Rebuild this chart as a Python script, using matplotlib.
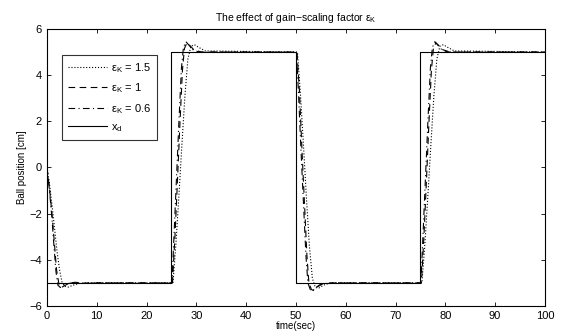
"""Ball position responses for several gain-scaling factors."""

import matplotlib

matplotlib.use("Agg")
import matplotlib.pyplot as plt

plt.rcParams["font.family"] = ["Liberation Sans", "DejaVu Sans"]
plt.rcParams["mathtext.fontset"] = "custom"
plt.rcParams["mathtext.rm"] = "Liberation Sans"
plt.rcParams["mathtext.it"] = "Liberation Sans:italic"

# reference trajectory x_d
T_REF = [0, 25, 25, 50, 50, 75, 75, 100]
X_REF = [-5, -5, 5, 5, -5, -5, 5, 5]

# eps_K = 0.6 (dash-dot)
T_06 = [0, 0.5, 1.0, 1.4, 1.8, 2.2, 2.7, 3.3, 4.2, 5.5, 7, 9, 25.1, 25.5, 26.0, 26.5, 27.0,
        27.4, 27.9, 28.5, 29.3, 30.5, 50.1, 50.5, 51.0, 51.5, 52.0, 52.4, 52.9, 53.3, 54.0,
        55.0, 57.0, 75.1, 75.5, 76.0, 76.5, 77.0, 77.4, 77.9, 78.5, 79.3, 80.5, 100]
Y_06 = [0, -1.0, -2.2, -3.4, -4.5, -5.1, -5.2, -5.1, -5.03, -4.98, -5.02, -5.0, -5.0, -3.0,
        -0.5, 2.0, 4.3, 5.2, 5.45, 5.3, 5.1, 5.0, 5.0, 3.3, 0.8, -1.5, -3.8, -5.0, -5.3, -5.35,
        -5.2, -5.05, -5.0, -5.0, -3.0, -0.5, 2.0, 4.3, 5.2, 5.45, 5.3, 5.1, 5.0, 5.0]

# eps_K = 1 (dashed)
T_10 = [0, 0.5, 1.0, 1.5, 1.9, 2.4, 2.9, 3.5, 4.4, 5.7, 7.5, 10, 25.2, 25.7, 26.2, 26.7, 27.2,
        27.6, 28.1, 28.7, 29.5, 31.0, 50.2, 50.7, 51.2, 51.7, 52.2, 52.6, 53.1, 53.5, 54.2,
        55.3, 57.5, 75.2, 75.7, 76.2, 76.7, 77.2, 77.6, 78.1, 78.7, 79.5, 81.0, 100]
Y_10 = [0, -0.9, -2.0, -3.3, -4.4, -5.05, -5.2, -5.12, -5.02, -4.97, -5.02, -5.0, -5.0, -3.0,
        -0.6, 1.9, 4.2, 5.15, 5.4, 5.28, 5.1, 5.0, 5.0, 3.3, 0.8, -1.5, -3.8, -5.0, -5.28, -5.33,
        -5.18, -5.05, -5.0, -5.0, -3.0, -0.6, 1.9, 4.2, 5.15, 5.4, 5.28, 5.1, 5.0, 5.0]

# eps_K = 1.5 (dotted)
T_15 = [0, 0.5, 1.0, 1.5, 2.0, 2.5, 3.0, 3.6, 4.3, 5.2, 6.5, 8.5, 11, 25.3, 25.9, 26.5, 27.1,
        27.7, 28.3, 28.9, 29.6, 30.5, 31.8, 50.3, 50.9, 51.5, 52.1, 52.7, 53.3, 53.9, 54.6,
        55.5, 56.8, 75.3, 75.9, 76.5, 77.1, 77.7, 78.3, 78.9, 79.6, 80.5, 81.8, 100]
Y_15 = [0, -0.7, -1.6, -2.6, -3.6, -4.4, -4.95, -5.15, -5.18, -5.1, -5.02, -4.98, -5.0, -5.0,
        -3.3, -1.2, 1.0, 3.1, 4.7, 5.25, 5.32, 5.2, 5.05, 5.0, 3.2, 1.0, -1.3, -3.4, -4.8, -5.2,
        -5.22, -5.1, -5.0, -5.0, -3.3, -1.2, 1.0, 3.1, 4.7, 5.25, 5.32, 5.2, 5.05, 5.0]

fig = plt.figure(figsize=(5.62, 3.33), dpi=100)
ax = fig.add_axes([0.0836, 0.081, 0.886, 0.832])

lw = 0.8
ax.plot(T_15, Y_15, color="black", linestyle=":", linewidth=lw, label="ε$_\\mathrm{K}$ = 1.5")
ax.plot(T_10, Y_10, color="black", linestyle=(0, (6, 4)), linewidth=lw, label="ε$_\\mathrm{K}$ = 1")
ax.plot(T_06, Y_06, color="black", linestyle=(0, (6, 3, 1, 3)), linewidth=lw,
        label="ε$_\\mathrm{K}$ = 0.6")
ax.plot(T_REF, X_REF, color="black", linestyle="-", linewidth=lw, label="x$_\\mathrm{d}$")

ax.set_xlim(0, 100)
ax.set_ylim(-6, 6)
ax.set_xticks(range(0, 101, 10))
ax.set_yticks(range(-6, 7, 2))
ax.tick_params(direction="in", top=True, right=True, labelsize=8, length=3, width=0.6)
for spine in ax.spines.values():
    spine.set_linewidth(0.8)

ax.set_xlabel("time(sec)", fontsize=7, labelpad=0)
ax.set_ylabel("Ball position [cm]", fontsize=7, labelpad=2)
ax.set_title("The effect of gain−scaling factor ε$_\\mathrm{K}$", fontsize=7.5, pad=6)

leg = ax.legend(loc="upper left", bbox_to_anchor=(0.03, 0.907), fontsize=8, frameon=True,
                fancybox=False, edgecolor="black", handlelength=3.5, handletextpad=0.35,
                labelspacing=0.6, borderpad=0.55, borderaxespad=0)
leg.get_frame().set_linewidth(0.8)

fig.savefig("out.png", dpi=100)
